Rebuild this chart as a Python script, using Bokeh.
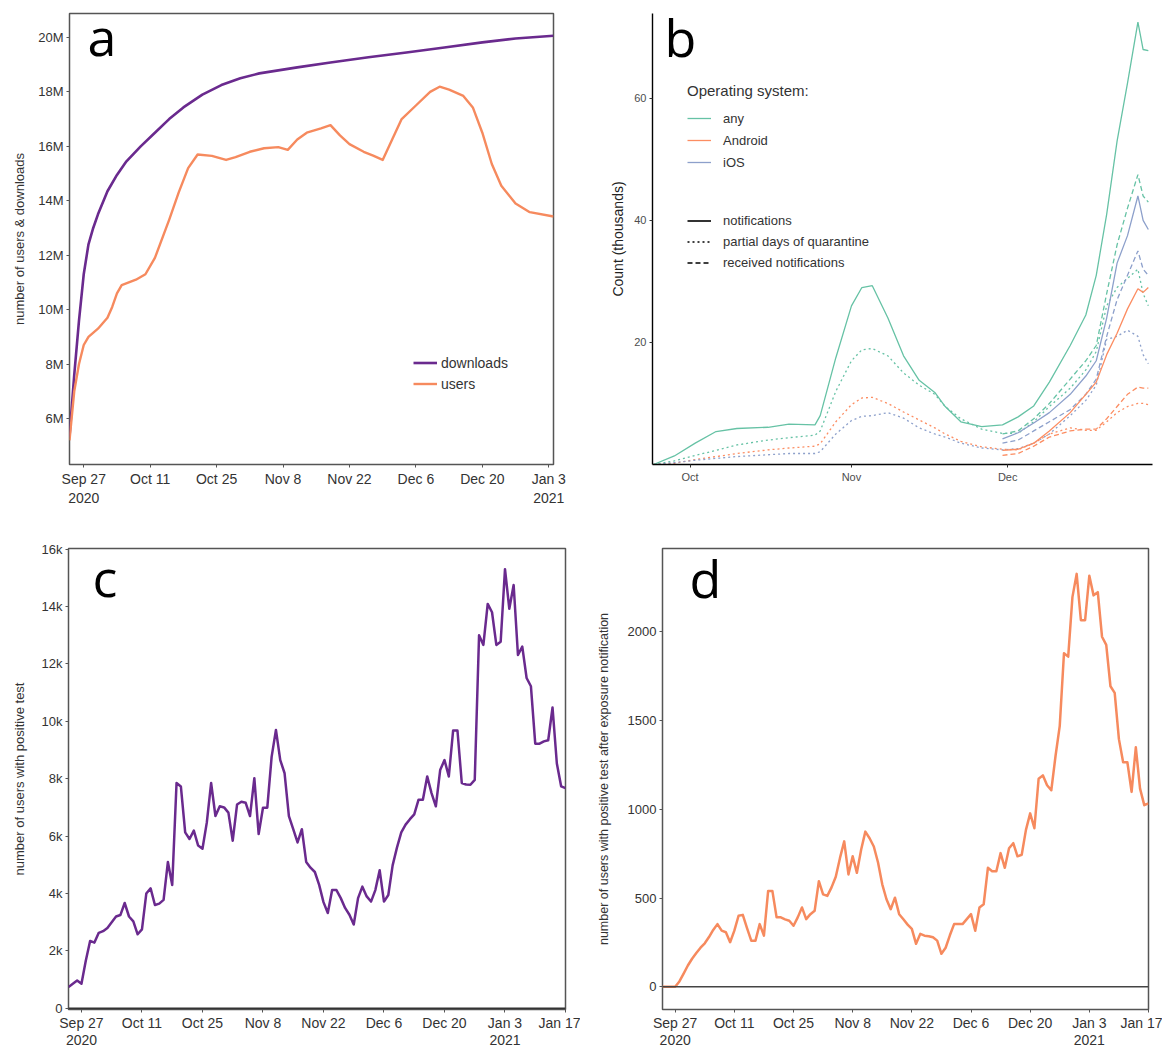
from datetime import datetime, timedelta
from bokeh.plotting import figure
from bokeh.models import (Range1d, FixedTicker, CustomJSTickFormatter, Label, Legend,
                          LegendItem, Span)
from bokeh.layouts import column, row
from bokeh.embed import file_html
from bokeh.resources import INLINE

START = datetime(2020, 9, 24)   # day 0 of every series
FONT = "Liberation Sans"

# ---------------- panel a: downloads & users (millions) ----------------
a_dl_day = [0, 1, 2, 3, 4, 5, 6, 8, 10, 12, 15, 18, 21, 24, 28, 32, 36, 40, 48, 55, 63, 71, 79, 87, 94, 102]
a_downloads = [5.33, 7.6, 9.6, 11.3, 12.4, 13.0, 13.5, 14.35, 14.95, 15.45, 16.0, 16.5, 17.0, 17.43, 17.9,
               18.25, 18.5, 18.68, 18.9, 19.08, 19.27, 19.45, 19.63, 19.82, 19.96, 20.06]
a_us_day = [0, 1, 2, 3, 4, 6, 8, 9, 10, 11, 14, 16, 18, 21, 23, 25, 27, 30, 33, 35, 38, 41, 44, 46, 48, 50,
            53, 55, 57, 59, 62, 64, 66, 68, 70, 73, 76, 78, 80, 83, 85, 87, 89, 91, 94, 97, 102]
a_users = [5.2, 7.0, 8.0, 8.7, 9.0, 9.3, 9.7, 10.1, 10.6, 10.9, 11.1, 11.3, 11.9, 13.3, 14.3, 15.2, 15.7,
           15.65, 15.5, 15.6, 15.8, 15.93, 15.97, 15.87, 16.25, 16.5, 16.66, 16.78, 16.4, 16.08, 15.8,
           15.66, 15.5, 16.25, 17.0, 17.5, 18.0, 18.19, 18.08, 17.85, 17.43, 16.5, 15.35, 14.55, 13.9,
           13.58, 13.42]
a_ytick = [6, 8, 10, 12, 14, 16, 18, 20]
a_xtick_day = [3, 17, 31, 45, 59, 73, 87, 101]
a_xtick_lab = ["Sep 27\n2020", "Oct 11", "Oct 25", "Nov 8", "Nov 22", "Dec 6", "Dec 20", "Jan 3\n2021"]

# ---------------- panel b: counts (thousands) ----------------
b_day = [0, 4, 8, 12, 16, 22, 26, 31, 32, 35, 38, 40, 42, 45, 48, 51, 54, 56, 59, 63, 67, 70, 73, 76,
         80, 83, 85, 87, 89, 91, 93, 94, 95]
any_notif = [0, 1.4, 3.5, 5.4, 5.9, 6.1, 6.6, 6.5, 8.0, 17.5, 26, 29, 29.3, 24, 17.8, 13.8, 11.8, 9.5,
             7.0, 6.2, 6.5, 7.8, 9.6, 13.5, 19.5, 24.5, 31, 41, 53, 62.5, 72.5, 68, 67.8]
any_part = [0, 0.6, 1.5, 2.3, 3.2, 4.0, 4.4, 4.8, 5.5, 12, 17, 18.8, 19, 17.8, 15, 13, 11.5, 9.5, 7.5,
            5.8, 5.1, 5.1, 7.0, 9.5, 12.5, 15.5, 18.5, 26, 29, 30.5, 32, 28, 26]
and_part = [0, 0.2, 0.8, 1.3, 1.8, 2.4, 2.7, 3.0, 3.4, 7.0, 9.8, 10.9, 11, 10, 8.6, 7.3, 6.0, 5.0, 3.8,
            2.9, 2.5, 2.4, 3.5, 5.0, 6.0, 5.6, 5.6, 7.0, 8.5, 9.5, 10, 10, 9.8]
ios_part = [0, 0.3, 0.7, 1.0, 1.3, 1.6, 1.8, 1.8, 2.1, 5.0, 7.2, 7.9, 8.0, 8.5, 7.6, 6.0, 5.0, 4.5, 3.5,
            2.7, 2.4, 2.6, 3.5, 5.0, 8.0, 10.5, 13, 20.5, 21, 22, 21, 18, 16.5]
b_day_late = [67, 70, 73, 76, 80, 83, 85, 87, 89, 91, 93, 94, 95]
and_notif = [2.3, 2.5, 3.5, 5.5, 8.5, 11.5, 13.5, 18, 21.5, 25.5, 28.8, 28.2, 29]
ios_notif = [4.2, 5.2, 6.8, 8.5, 11.5, 14.5, 17, 24, 33, 37.5, 44, 40, 38.5]
any_recv = [5.0, 5.5, 7.5, 10, 14, 17, 19.5, 28, 36, 42, 47.5, 44, 43]
ios_recv = [3.5, 4.0, 5.5, 7, 9.0, 11.5, 14, 21, 27, 31, 35, 32, 31]
and_recv = [1.5, 1.8, 3.0, 4.5, 5.5, 5.8, 5.8, 7.5, 9.5, 11.5, 12.7, 12.5, 12.5]
b_ytick = [20, 40, 60]
b_xtick_day = [7, 38, 68]
b_xtick_lab = ["Oct", "Nov", "Dec"]

# ---------------- panel c: daily users with positive test (thousands), from day 0 ----------------
c_pos = [0.74, 0.86, 0.97, 0.86, 1.66, 2.35, 2.29, 2.63, 2.69, 2.8,
         3.0, 3.2, 3.25, 3.67, 3.2, 3.03, 2.58, 2.75, 4.0, 4.18,
         3.6, 3.65, 3.78, 5.1, 4.3, 7.85, 7.73, 6.13, 5.9, 6.19,
         5.67, 5.56, 6.47, 7.85, 6.7, 7.04, 7.0, 6.82, 5.84, 7.1,
         7.2, 7.16, 6.7, 8.02, 6.07, 6.99, 6.99, 8.76, 9.7, 8.65,
         8.19, 6.7, 6.24, 5.78, 6.24, 5.1, 4.9, 4.75, 4.3, 3.7,
         3.32, 4.12, 4.12, 3.84, 3.5, 3.26, 2.92, 3.84, 4.24, 3.9,
         3.72, 4.12, 4.81, 3.72, 3.95, 4.98, 5.6, 6.13, 6.4, 6.59,
         6.76, 7.27, 7.27, 8.08, 7.5, 7.04, 8.3, 8.65, 8.08, 9.68,
         9.68, 7.85, 7.8, 7.79, 7.96, 13.0, 12.66, 14.09, 13.8, 12.66,
         12.77, 15.3, 13.92, 14.75, 12.31, 12.6, 11.51, 11.22, 9.22, 9.22,
         9.3, 9.34, 10.48, 8.53, 7.73, 7.67]
# ---------------- panel d: positive test after exposure notification ----------------
d_pos = [0, 0, 0, 0, 30, 74, 120, 158, 190, 220,
         245, 280, 320, 353, 316, 307, 251, 316, 400, 405,
         330, 260, 260, 353, 288, 540, 540, 391, 391, 380,
         372, 344, 391, 447, 381, 409, 428, 595, 521, 512,
         560, 620, 726, 819, 633, 735, 642, 772, 874, 837,
         790, 700, 577, 493, 437, 502, 409, 380, 350, 326,
         242, 298, 288, 285, 279, 260, 186, 220, 290, 353,
         353, 353, 381, 409, 316, 447, 465, 670, 651, 651,
         753, 670, 780, 809, 735, 744, 884, 977, 893, 1172,
         1191, 1135, 1107, 1300, 1470, 1879, 1860, 2195, 2326, 2065,
         2065, 2316, 2205, 2223, 1972, 1926, 1693, 1656, 1395, 1265,
         1265, 1098, 1349, 1116, 1023, 1033]
cd_xtick_day = [3, 17, 31, 45, 59, 73, 87, 101, 115]
cd_xtick_lab = ["Sep 27\n2020", "Oct 11", "Oct 25", "Nov 8", "Nov 22", "Dec 6", "Dec 20",
                "Jan 3\n2021", "Jan 17"]
c_ytick = [0, 2, 4, 6, 8, 10, 12, 14, 16]
d_ytick = [0, 500, 1000, 1500, 2000]

PURPLE = "#6a2a8e"
ORANGE = "#f68a5e"
TEAL, S_ORANGE, S_BLUE = "#66c2a5", "#fc8d62", "#8da0cb"


def dates(days):
    return [START + timedelta(days=d) for d in days]


def ms(day):
    return (START + timedelta(days=day) - datetime(1970, 1, 1)).total_seconds() * 1000.0


def label_formatter(days, labels):
    return CustomJSTickFormatter(args=dict(tk=[ms(d) for d in days], lb=labels), code="""
        for (let i = 0; i < tk.length; i++) { if (Math.abs(tk[i] - tick) < 1000) return lb[i]; }
        return "";
    """)


def framed(p, xdays, xlabs, yticks, yfmt, ylabel, ylab_size, ystand, xline_h, xstand):
    p.grid.visible = False
    p.outline_line_color = "#555555"
    p.outline_line_width = 1.5
    p.xaxis.ticker = FixedTicker(ticks=[ms(d) for d in xdays])
    p.xaxis.formatter = label_formatter(xdays, xlabs)
    p.yaxis.ticker = FixedTicker(ticks=yticks)
    if yfmt:
        p.yaxis.formatter = CustomJSTickFormatter(code=yfmt)
    for ax in (p.xaxis[0], p.yaxis[0]):
        ax.axis_line_color = None
        ax.major_tick_line_color = "#555555"
        ax.major_tick_out = 3
        ax.major_tick_in = 0
        ax.minor_tick_line_color = None
        ax.major_label_text_font = FONT
        ax.major_label_text_color = "#333333"
        ax.major_label_standoff = 3
    p.xaxis[0].major_label_text_font_size = "14px"
    p.xaxis[0].major_label_text_line_height = xline_h
    p.xaxis[0].major_label_standoff = xstand
    p.yaxis[0].major_label_text_font_size = "13px"
    p.yaxis[0].axis_label = ylabel
    p.yaxis[0].axis_label_text_font = FONT
    p.yaxis[0].axis_label_text_font_size = ylab_size
    p.yaxis[0].axis_label_text_font_style = "normal"
    p.yaxis[0].axis_label_text_color = "#333333"
    p.yaxis[0].axis_label_standoff = ystand


def letter(p, txt, x, y):
    p.add_layout(Label(x=x, y=y, x_units="screen", y_units="screen", text=txt, text_font="Open Sans",
                       text_font_size="52px", text_color="black", text_baseline="alphabetic"))


# ---------- a ----------
pa = figure(width=580, height=510, x_axis_type="datetime", output_backend="svg", toolbar_location=None,
            x_range=Range1d(START, START + timedelta(days=102)), y_range=Range1d(4.31, 20.88),
            min_border_left=69, min_border_right=27, min_border_top=13, min_border_bottom=46)
framed(pa, a_xtick_day, a_xtick_lab, a_ytick, "return tick + 'M';", "number of users & downloads",
       "13px", 8, 1.2, 3)
r_dl = pa.line(dates(a_dl_day), a_downloads, line_color=PURPLE, line_width=2.6, line_join="round")
r_us = pa.line(dates(a_us_day), a_users, line_color=ORANGE, line_width=2.4, line_join="round")
leg_a = Legend(items=[LegendItem(label="downloads", renderers=[r_dl]),
                      LegendItem(label="users", renderers=[r_us])],
               location=(344, 70), border_line_color=None, background_fill_alpha=0, padding=0, margin=0,
               spacing=0, glyph_width=24, glyph_height=21, label_height=21, label_standoff=4,
               label_text_font=FONT, label_text_font_size="14px", label_text_color="#333333")
pa.add_layout(leg_a)
letter(pa, "a", 18, 429)

# ---------- b ----------
pb = figure(width=582, height=510, x_axis_type="datetime", output_backend="svg", toolbar_location=None,
            x_range=Range1d(START - timedelta(days=0.2), START + timedelta(days=95.8)),
            y_range=Range1d(0, 73.9),
            min_border_left=72, min_border_right=10, min_border_top=13, min_border_bottom=46)
pb.grid.visible = False
pb.outline_line_color = None
pb.xaxis.ticker = FixedTicker(ticks=[ms(d) for d in b_xtick_day])
pb.xaxis.formatter = label_formatter(b_xtick_day, b_xtick_lab)
pb.yaxis.ticker = FixedTicker(ticks=b_ytick)
for ax in (pb.xaxis[0], pb.yaxis[0]):
    ax.axis_line_color = "black"
    ax.axis_line_width = 1.4
    ax.major_tick_line_color = "#333333"
    ax.major_tick_out = 3
    ax.major_tick_in = 0
    ax.minor_tick_line_color = None
    ax.major_label_text_font = FONT
    ax.major_label_text_font_size = "11px"
    ax.major_label_text_color = "#4d4d4d"
    ax.major_label_standoff = 3
pb.yaxis[0].axis_label = "Count (thousands)"
pb.yaxis[0].axis_label_text_font = FONT
pb.yaxis[0].axis_label_text_font_size = "14px"
pb.yaxis[0].axis_label_text_font_style = "normal"
pb.yaxis[0].axis_label_text_color = "#222222"
pb.yaxis[0].axis_label_standoff = 5

DOT, DASH = "2 3", "5 3"
W = 1.3
pb.line(dates(b_day), any_part, line_color=TEAL, line_width=W, line_dash=DOT)
pb.line(dates(b_day), and_part, line_color=S_ORANGE, line_width=W, line_dash=DOT)
pb.line(dates(b_day), ios_part, line_color=S_BLUE, line_width=W, line_dash=DOT)
pb.line(dates(b_day_late), any_recv, line_color=TEAL, line_width=W, line_dash=DASH)
pb.line(dates(b_day_late), and_recv, line_color=S_ORANGE, line_width=W, line_dash=DASH)
pb.line(dates(b_day_late), ios_recv, line_color=S_BLUE, line_width=W, line_dash=DASH)
r_any = pb.line(dates(b_day), any_notif, line_color=TEAL, line_width=W)
r_and = pb.line(dates(b_day_late), and_notif, line_color=S_ORANGE, line_width=W)
r_ios = pb.line(dates(b_day_late), ios_notif, line_color=S_BLUE, line_width=W)
# legend-only proxies for the line types (a single missing value, so nothing is drawn in the plot)
NAN = float("nan")
k_sol = pb.line(x=[START], y=[NAN], line_color="black", line_width=1.6)
k_dot = pb.line(x=[START], y=[NAN], line_color="black", line_width=1.4, line_dash=DOT)
k_dash = pb.line(x=[START], y=[NAN], line_color="black", line_width=1.4, line_dash=DASH)

common = dict(border_line_color=None, background_fill_alpha=0, padding=0, margin=0, spacing=0,
              glyph_width=24, label_standoff=12, label_text_font=FONT, label_text_font_size="13px",
              label_text_color="#333333")
leg_os = Legend(items=[LegendItem(label="any", renderers=[r_any]),
                       LegendItem(label="Android", renderers=[r_and]),
                       LegendItem(label="iOS", renderers=[r_ios])],
                title="Operating system:", title_text_font=FONT, title_text_font_size="15px",
                title_text_font_style="normal", title_text_color="#333333", title_standoff=8,
                location=(35, 291), glyph_height=22, label_height=22, **common)
leg_lt = Legend(items=[LegendItem(label="notifications", renderers=[k_sol]),
                       LegendItem(label="partial days of quarantine", renderers=[k_dot]),
                       LegendItem(label="received notifications", renderers=[k_dash])],
                location=(35, 191), glyph_height=21, label_height=21, **common)
pb.add_layout(leg_os)
pb.add_layout(leg_lt)
letter(pb, "b", 12, 428)

# ---------- c ----------
c_days = list(range(len(c_pos)))
pc = figure(width=580, height=541, x_axis_type="datetime", output_backend="svg", toolbar_location=None,
            x_range=Range1d(START, START + timedelta(days=115)), y_range=Range1d(-0.04, 16.02),
            min_border_left=68, min_border_right=15, min_border_top=38, min_border_bottom=38)
framed(pc, cd_xtick_day, cd_xtick_lab, c_ytick, "return tick == 0 ? '0' : tick + 'k';",
       "number of users with positive test", "13px", 12, 1.1, 2)
pc.add_layout(Span(location=0, dimension="width", line_color="#333333", line_width=1.8))
pc.line(dates(c_days), c_pos, line_color=PURPLE, line_width=2.5, line_join="round")
letter(pc, "c", 24, 433)

# ---------- d ----------
d_days = list(range(len(d_pos)))
pd_ = figure(width=582, height=541, x_axis_type="datetime", output_backend="svg", toolbar_location=None,
             x_range=Range1d(START, START + timedelta(days=115)), y_range=Range1d(-128, 2469),
             min_border_left=82, min_border_right=14, min_border_top=38, min_border_bottom=38)
framed(pd_, cd_xtick_day, cd_xtick_lab, d_ytick, None,
       "number of users with positive test after exposure notification", "12.5px", 14, 1.1, 2)
pd_.add_layout(Span(location=0, dimension="width", line_color="#444444", line_width=1.5))
pd_.line(dates(d_days), d_pos, line_color=ORANGE, line_width=2.5, line_join="round")
letter(pd_, "d", 27, 432)

layout = column(row(pa, pb), row(pc, pd_))
open("out.html", "w").write(file_html(layout, INLINE))
